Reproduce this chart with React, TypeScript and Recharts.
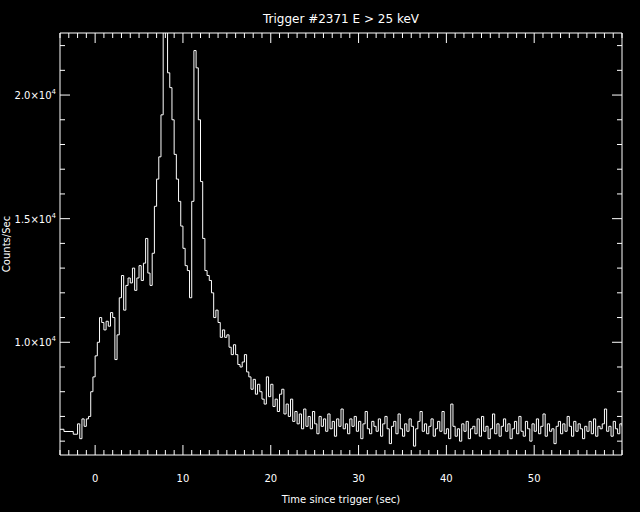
import React from 'react';
import { LineChart, Line, XAxis, YAxis, ReferenceArea } from 'recharts';

// ---- axis ranges ----
const X_MIN = -4;
const X_MAX = 60;
const Y_MIN = 5440;
const Y_MAX = 22510;

// ---- pre-trigger coarse bins (sec, counts/sec) ----
const preTriggerTimes = [-4.0, -3.55, -2.49];
const preTriggerCounts = [6480, 6390, 6280];

// ---- fine bins: start time and bin width (sec) ----
const fineStart = -2.0;
const fineStep = 0.25;
const fineCounts = [
  6700, 6100, 6900, 6600, // -2
  6900, 7000, 8000, 8600, // -1
  9450, 10000, 11000, 10800, // 0
  10500, 10850, 10650, 11200, // 1
  11000, 9300, 10300, 11800, // 2
  12700, 11300, 12300, 12600, // 3
  12400, 13000, 12100, 12600, // 4
  13100, 12500, 13200, 14200, // 5
  12800, 12300, 13600, 15500, // 6
  16600, 17500, 19200, 22700, // 7
  22700, 20900, 20300, 19000, // 8
  17600, 16600, 15700, 14700, // 9
  13800, 13100, 12900, 11800, // 10
  15700, 21800, 21100, 19000, // 11
  16500, 14200, 12900, 12700, // 12
  12500, 12000, 11000, 11300, // 13
  10800, 10200, 10500, 10200, // 14
  10300, 9800, 9500, 9900, // 15
  9500, 9100, 9000, 9200, // 16
  9500, 8800, 8600, 8100, // 17
  8500, 7900, 8300, 8000, // 18
  7700, 7500, 8600, 7800, // 19
  8300, 7400, 7700, 7200, // 20
  7900, 8100, 7100, 7500, // 21
  7000, 7700, 6800, 7200, // 22
  6700, 7100, 6500, 7300, // 23
  6600, 7000, 6500, 7200, // 24
  6700, 6300, 7000, 6600, // 25
  6900, 6400, 7100, 6500, // 26
  6800, 6200, 6900, 6600, // 27
  7300, 6500, 6700, 6300, // 28
  6900, 6600, 7000, 6400, // 29
  6800, 6100, 6700, 7200, // 30
  6500, 6300, 6800, 6600, // 31
  6400, 6900, 6200, 6700, // 32
  7000, 6500, 5900, 6600, // 33
  6800, 6300, 7100, 6500, // 34
  6200, 6700, 6400, 6900, // 35
  6600, 5800, 6500, 6800, // 36
  7200, 6400, 6700, 6300, // 37
  6600, 6900, 6200, 6500, // 38
  6800, 6400, 7200, 6300, // 39
  6500, 6100, 7500, 6600, // 40
  6200, 6500, 6000, 6700, // 41
  6400, 6800, 6100, 6500, // 42
  6600, 6300, 6900, 6200, // 43
  7000, 6400, 6600, 6100, // 44
  6500, 7100, 6300, 6700, // 45
  6200, 6600, 6900, 6400, // 46
  6700, 6100, 6500, 6800, // 47
  6300, 7000, 6400, 6200, // 48
  6800, 6500, 6000, 6700, // 49
  6400, 6900, 6300, 6600, // 50
  7100, 6200, 6700, 6400, // 51
  6500, 5900, 6600, 6800, // 52
  6300, 6700, 6400, 7000, // 53
  6600, 6200, 6800, 6400, // 54
  6700, 6500, 6100, 6600, // 55
  6400, 6800, 6300, 6900, // 56
  6200, 6600, 6500, 6700, // 57
  7300, 6400, 6600, 6200, // 58
  6800, 6500, 6300, 6700, // 59
  6600, // 60
];

// ---- ticks ----
const xMinorTicks: number[] = [];
for (let t = X_MIN; t <= X_MAX; t += 1) xMinorTicks.push(t);
const xMajorLabels = [0, 10, 20, 30, 40, 50];
const yMinorTicks: number[] = [];
for (let v = 6000; v <= 22000; v += 1000) yMinorTicks.push(v);
const yMajorValues = [10000, 15000, 20000];
const yMajorMantissas = ['1.0', '1.5', '2.0'];
const yExponent = '4';

const titleText = 'Trigger #2371 E > 25 keV';
const xTitle = 'Time since trigger (sec)';
const yTitle = 'Counts/Sec';

// ---- layout ----
const W = 640;
const H = 512;
const PLOT_LEFT = 60;
const PLOT_TOP = 33;
const PLOT_RIGHT = 622;
const PLOT_BOTTOM = 455;
const PLOT_W = PLOT_RIGHT - PLOT_LEFT;
const PLOT_H = PLOT_BOTTOM - PLOT_TOP;
const X_AXIS_H = 30;
const Y_AXIS_W = 40;
const M = {
  top: PLOT_TOP,
  right: W - PLOT_RIGHT,
  bottom: H - PLOT_BOTTOM - X_AXIS_H,
  left: PLOT_LEFT - Y_AXIS_W,
};
const FONT = '"DejaVu Sans", sans-serif';

const data = [
  ...preTriggerTimes.map((t, i) => ({ t, c: preTriggerCounts[i] })),
  ...fineCounts.map((c, i) => ({ t: fineStart + i * fineStep, c })),
];

const renderXTick = (props: any) => {
  const { x, y, payload } = props;
  const v = payload.value as number;
  const major = xMajorLabels.includes(v);
  const len = major ? 10 : 5;
  return (
    <g key={`xt-${v}`}>
      <line x1={x} y1={y} x2={x} y2={y - len} stroke="#fff" strokeWidth={1} />
      <line x1={x} y1={y - PLOT_H} x2={x} y2={y - PLOT_H + len} stroke="#fff" strokeWidth={1} />
      {major && (
        <text x={x} y={y + 27} textAnchor="middle" fill="#fff" fontSize={10} fontFamily={FONT}>
          {v}
        </text>
      )}
    </g>
  );
};

const renderYTick = (props: any) => {
  const { x, y, payload } = props;
  const v = payload.value as number;
  const mi = yMajorValues.indexOf(v);
  const major = mi >= 0;
  const len = major ? 10 : 5;
  return (
    <g key={`yt-${v}`}>
      <line x1={x} y1={y} x2={x + len} y2={y} stroke="#fff" strokeWidth={1} />
      <line x1={x + PLOT_W} y1={y} x2={x + PLOT_W - len} y2={y} stroke="#fff" strokeWidth={1} />
      {major && (
        <text x={x - 4} y={y + 4} textAnchor="end" fill="#fff" fontSize={10} fontFamily={FONT}>
          <tspan>{yMajorMantissas[mi] + '\u00d710'}</tspan>
          <tspan dy={-5} fontSize={7}>{yExponent}</tspan>
        </text>
      )}
    </g>
  );
};

export default function App() {
  return (
    <div style={{ position: 'fixed', left: 0, top: 0, width: W, height: H, background: '#000' }}>
      <LineChart width={W} height={H} data={data} margin={M}>
        <XAxis
          dataKey="t"
          type="number"
          domain={[X_MIN, X_MAX]}
          ticks={xMinorTicks}
          interval={0}
          height={X_AXIS_H}
          tickSize={0}
          tickMargin={0}
          axisLine={false}
          tickLine={false}
          tick={renderXTick}
          allowDataOverflow
        />
        <YAxis
          type="number"
          domain={[Y_MIN, Y_MAX]}
          ticks={yMinorTicks}
          interval={0}
          width={Y_AXIS_W}
          tickSize={0}
          tickMargin={0}
          axisLine={false}
          tickLine={false}
          tick={renderYTick}
          allowDataOverflow
        />
        <ReferenceArea
          x1={X_MIN}
          x2={X_MAX}
          y1={Y_MIN}
          y2={Y_MAX}
          fill="none"
          fillOpacity={0}
          stroke="#fff"
          strokeWidth={1}
          ifOverflow="visible"
        />
        <Line
          type="stepAfter"
          dataKey="c"
          stroke="#fff"
          strokeWidth={1}
          dot={false}
          isAnimationActive={false}
        />
      </LineChart>
      <svg
        width={W}
        height={H}
        style={{ position: 'absolute', left: 0, top: 0, pointerEvents: 'none' }}
      >
        <text x={PLOT_LEFT + PLOT_W / 2} y={23} textAnchor="middle" fill="#fff" fontSize={12} fontFamily={FONT}>
          {titleText}
        </text>
        <text x={PLOT_LEFT + PLOT_W / 2} y={503} textAnchor="middle" fill="#fff" fontSize={10} fontFamily={FONT}>
          {xTitle}
        </text>
        <text
          x={10}
          y={PLOT_TOP + PLOT_H / 2}
          textAnchor="middle"
          fill="#fff"
          fontSize={10}
          fontFamily={FONT}
          transform={`rotate(-90 10 ${PLOT_TOP + PLOT_H / 2})`}
        >
          {yTitle}
        </text>
      </svg>
    </div>
  );
}
